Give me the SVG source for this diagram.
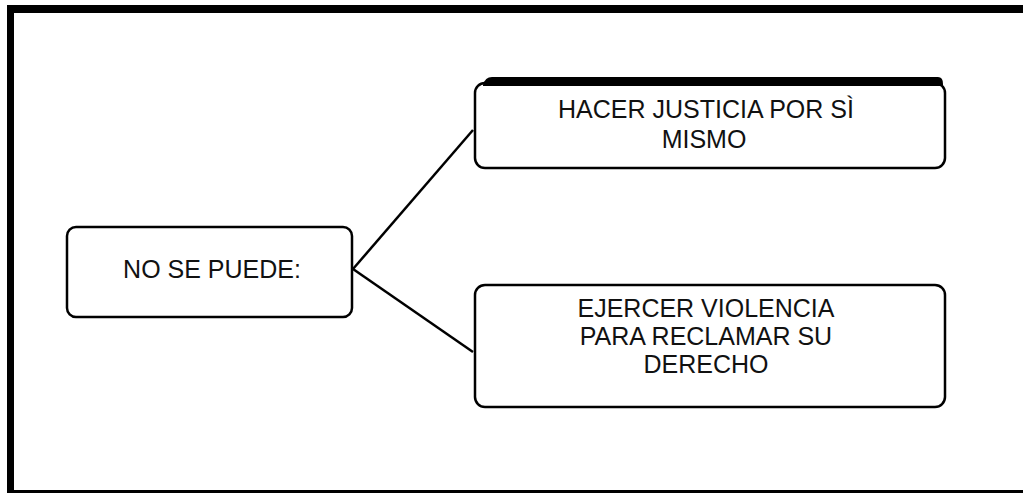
<svg xmlns="http://www.w3.org/2000/svg" width="1023" height="494" viewBox="0 0 1023 494">
<style>
.box{fill:#fff;stroke:#000;stroke-width:2.5}
.lbl{font-family:"Liberation Sans",Arial,sans-serif;font-size:25px;fill:#111;text-anchor:middle}
.con{stroke:#000;stroke-width:2.5;fill:none}
</style>
<rect x="0" y="0" width="1023" height="494" fill="#fff"/>
<g id="frame">
<rect x="7" y="5" width="1016" height="8" fill="#000"/>
<rect x="7" y="5" width="7" height="488" fill="#000"/>
<rect x="7" y="490" width="1016" height="3" fill="#000"/>
</g>
<g id="connectors">
<line class="con" x1="353" y1="269" x2="473" y2="130"/>
<line class="con" x1="353" y1="269" x2="473" y2="352"/>
</g>
<g id="n-no-se-puede">
<rect class="box" x="67" y="227" width="285" height="90" rx="9"/>
<text class="lbl" x="212" y="278">NO SE PUEDE:</text>
</g>
<g id="n-justicia">
<rect class="box" x="475" y="83" width="470" height="85" rx="10"/>
<path d="M483,85 Q485,77 492,77 L938,77 Q943,77 943,84 L943,86 L483,86 Z" fill="#000"/>
<text class="lbl" x="706" y="118">HACER JUSTICIA POR SÌ</text>
<text class="lbl" x="704" y="148">MISMO</text>
</g>
<g id="n-violencia">
<rect class="box" x="475" y="285" width="470" height="122" rx="10"/>
<text class="lbl" x="706" y="317">EJERCER VIOLENCIA</text>
<text class="lbl" x="706" y="345">PARA RECLAMAR SU</text>
<text class="lbl" x="706" y="373">DERECHO</text>
</g>
</svg>
